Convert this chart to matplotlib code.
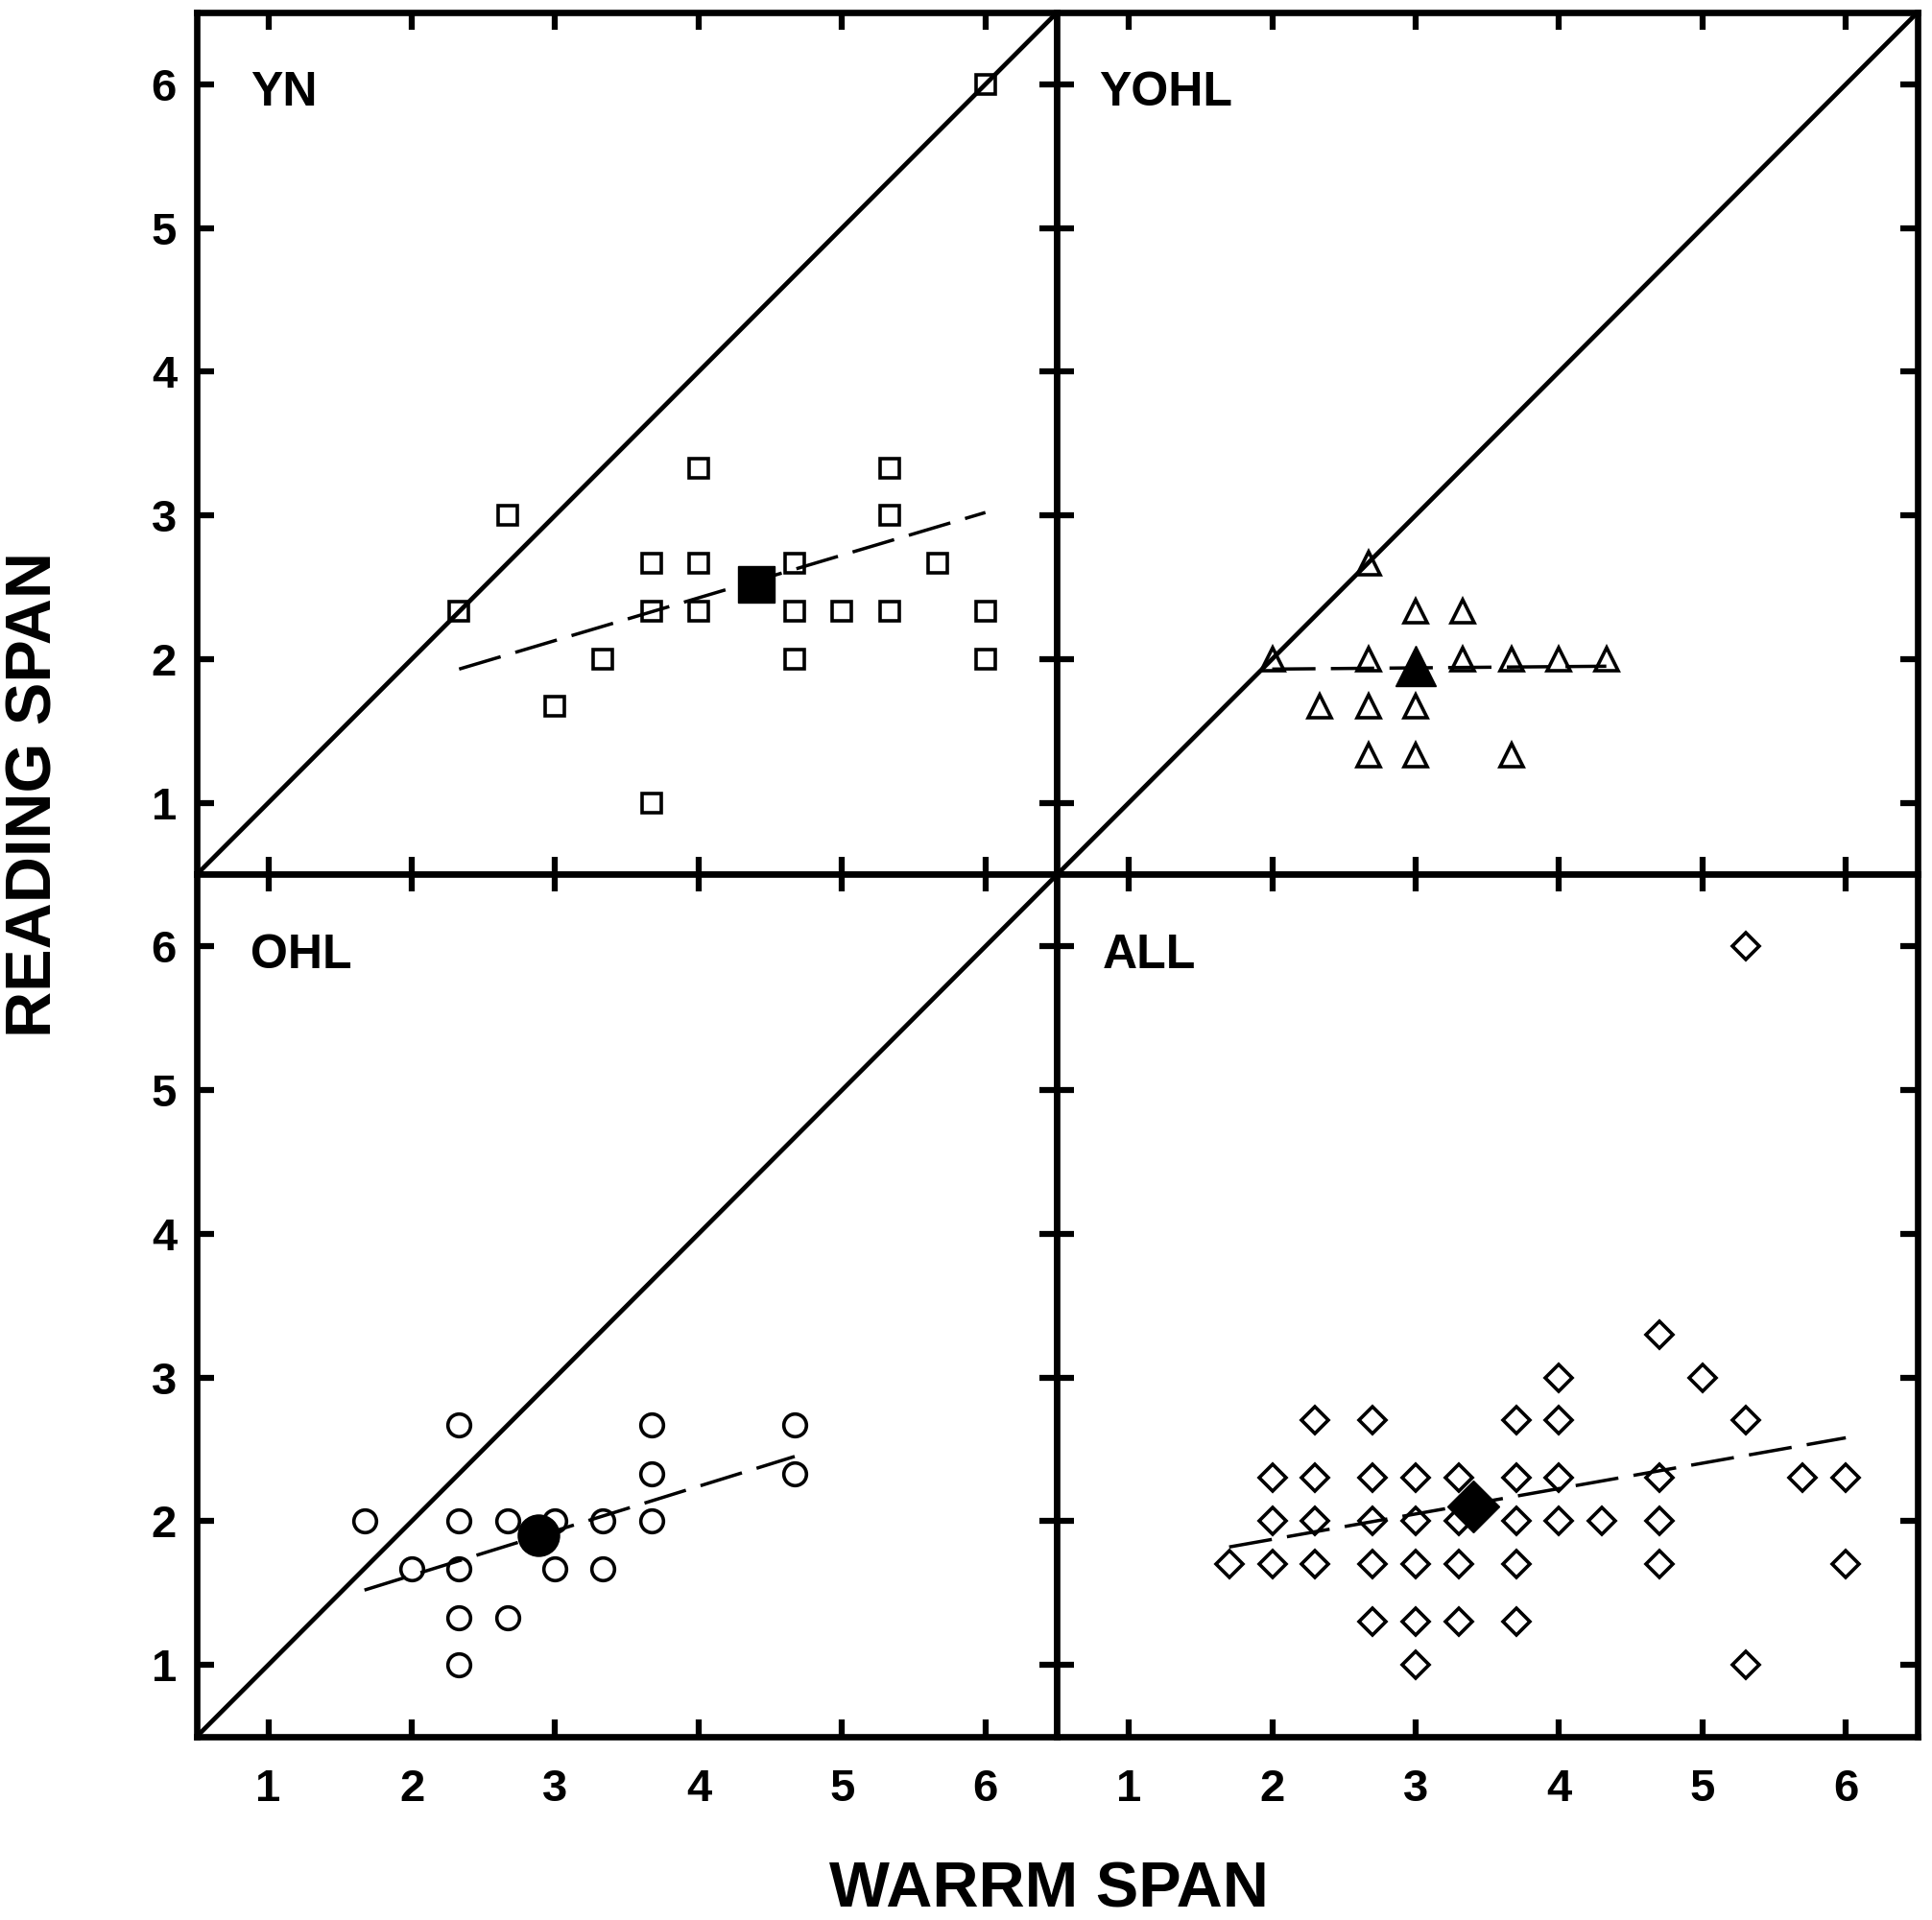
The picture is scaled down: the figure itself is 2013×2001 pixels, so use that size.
import matplotlib
matplotlib.use("Agg")
import matplotlib.pyplot as plt

plt.rcParams['font.family'] = ['Liberation Sans', 'DejaVu Sans']
plt.rcParams['font.weight'] = 'bold'

# YN panel (open squares)
yn_warrm = [2.33, 2.67, 3.0, 3.33, 3.67, 3.67, 3.67, 4.0, 4.0, 4.0, 4.67,
            4.67, 4.67, 5.0, 5.33, 5.33, 5.33, 5.67, 6.0, 6.0, 6.0]
yn_reading = [2.33, 3.0, 1.67, 2.0, 1.0, 2.33, 2.67, 3.33, 2.67, 2.33, 2.67,
              2.33, 2.0, 2.33, 3.33, 3.0, 2.33, 2.67, 2.33, 2.0, 6.0]
yn_mean = (4.4, 2.52)
yn_fit_x = [2.33, 6.0]
yn_fit_y = [1.93, 3.02]

# YOHL panel (open triangles)
yohl_warrm = [2.0, 2.67, 2.67, 2.33, 2.67, 2.67, 3.0, 3.0, 3.0, 3.33, 3.33,
              3.67, 3.67, 4.0, 4.33]
yohl_reading = [2.0, 2.67, 2.0, 1.67, 1.67, 1.33, 2.33, 1.67, 1.33, 2.33, 2.0,
                2.0, 1.33, 2.0, 2.0]
yohl_mean = (3.0, 1.95)
yohl_fit_x = [2.0, 4.33]
yohl_fit_y = [1.93, 1.95]

# OHL panel (open circles)
ohl_warrm = [1.67, 2.0, 2.33, 2.33, 2.33, 2.33, 2.33, 2.67, 2.67, 3.0, 3.0,
             3.33, 3.33, 3.67, 3.67, 3.67, 4.67, 4.67]
ohl_reading = [2.0, 1.67, 2.67, 2.0, 1.67, 1.33, 1.0, 2.0, 1.33, 2.0, 1.67,
               2.0, 1.67, 2.67, 2.33, 2.0, 2.67, 2.33]
ohl_mean = (2.88, 1.9)
ohl_fit_x = [1.67, 4.67]
ohl_fit_y = [1.52, 2.45]

# ALL panel (open diamonds)
all_warrm = [1.7, 2.0, 2.0, 2.0, 2.3, 2.3, 2.3, 2.3, 2.7, 2.7, 2.7, 2.7, 2.7,
             3.0, 3.0, 3.0, 3.0, 3.0, 3.3, 3.3, 3.3, 3.3, 3.7, 3.7, 3.7, 3.7,
             3.7, 4.0, 4.0, 4.0, 4.0, 4.3, 4.7, 4.7, 4.7, 4.7, 5.0, 5.3, 5.3,
             5.3, 5.7, 6.0, 6.0]
all_reading = [1.7, 2.3, 2.0, 1.7, 2.7, 2.3, 2.0, 1.7, 2.7, 2.3, 2.0, 1.7, 1.3,
               2.3, 2.0, 1.7, 1.3, 1.0, 2.3, 2.0, 1.7, 1.3, 2.7, 2.3, 2.0, 1.7,
               1.3, 3.0, 2.7, 2.3, 2.0, 2.0, 3.3, 2.3, 2.0, 1.7, 3.0, 2.7, 1.0,
               6.0, 2.3, 2.3, 1.7]
all_mean = (3.4, 2.1)
all_fit_x = [1.7, 6.0]
all_fit_y = [1.82, 2.58]

ticks = [1, 2, 3, 4, 5, 6]

# name, x, y, mean, fit x, fit y, marker, size, mean size, diagonal, label x
panels = [
    ("YN", yn_warrm, yn_reading, yn_mean, yn_fit_x, yn_fit_y, 's', 14, 28, True, 0.063),
    ("YOHL", yohl_warrm, yohl_reading, yohl_mean, yohl_fit_x, yohl_fit_y, '^', 17, 30, True, 0.049),
    ("OHL", ohl_warrm, ohl_reading, ohl_mean, ohl_fit_x, ohl_fit_y, 'o', 17, 31, True, 0.063),
    ("ALL", all_warrm, all_reading, all_mean, all_fit_x, all_fit_y, 'D', 14, 28, False, 0.053),
]

fig, axes = plt.subplots(2, 2, figsize=(20.13, 20.01), dpi=100,
                         sharex=True, sharey=True,
                         gridspec_kw=dict(hspace=0, wspace=0))
fig.subplots_adjust(left=0.1018, right=0.9925, top=0.9935, bottom=0.0955)

for ax, (name, xs, ys, mean, fx, fy, mk, ms, mms, diag, lx) in zip(axes.flat, panels):
    ax.set_xlim(0.5, 6.5)
    ax.set_ylim(0.5, 6.5)
    if diag:
        ax.plot([0.5, 6.5], [0.5, 6.5], color='black', lw=3.4, zorder=2)
    ax.plot(fx, fy, color='black', lw=2.5, dashes=(13, 4.6), zorder=2)
    ax.plot(xs, ys, linestyle='none', marker=mk, ms=ms, mfc='none',
            mec='black', mew=2.6, zorder=3)
    ax.plot([mean[0]], [mean[1]], linestyle='none', marker=mk, ms=mms,
            mfc='black', mec='black', zorder=4)
    ax.text(lx, 0.906, name, transform=ax.transAxes, fontsize=36,
            fontweight='bold', ha='left', va='center')
    ax.set_xticks(ticks)
    ax.set_yticks(ticks)
    ax.tick_params(direction='in', top=True, right=True, length=13, width=4.5,
                   labelsize=34, pad=15)
    ax.tick_params(axis='x', pad=24)
    for sp in ax.spines.values():
        sp.set_linewidth(4.8)
    for lab in ax.get_xticklabels() + ax.get_yticklabels():
        lab.set_fontweight('bold')

fig.text(0.018, 0.586, "READING SPAN", rotation=90,
         fontsize=48, fontweight='bold', ha='center', va='center')
fig.text(0.543, 0.015, "WARRM SPAN",
         fontsize=48, fontweight='bold', ha='center', va='center')

fig.savefig("out.png", dpi=100)
